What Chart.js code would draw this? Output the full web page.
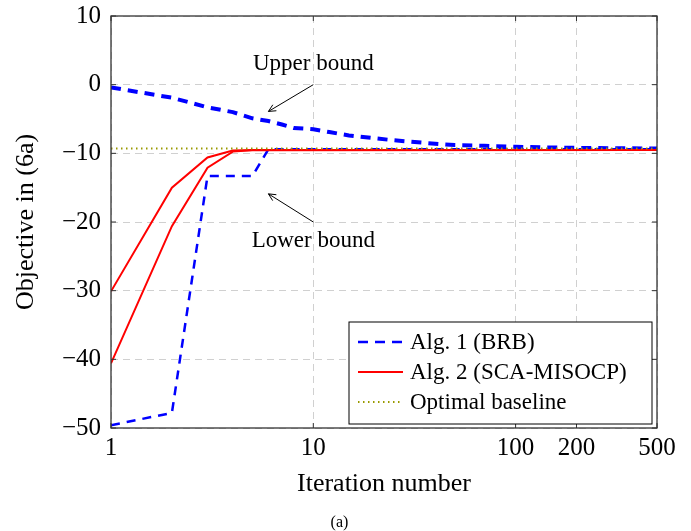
<!DOCTYPE html>
<html>
<head>
<meta charset="utf-8">
<script src="https://cdn.jsdelivr.net/npm/chart.js@4.4.1/dist/chart.umd.min.js"></script>
<style>
  html, body { margin: 0; padding: 0; background: #fff; }
  #wrap { width: 691px; height: 531px; }
</style>
</head>
<body>
<div id="wrap"><canvas id="chart" width="691" height="531"></canvas></div>
<script>
// tick labels
const xTicks = [1, 10, 100, 200, 500];
const yMin = -50, yMax = 10, yStep = 10;

// Alg. 1 (BRB): upper and lower bounds
const upperIter  = [1, 2, 3, 4, 5, 6, 7, 8, 9, 10, 12, 15, 20, 25, 30, 40, 50, 70, 100, 150, 200, 300, 500];
const upperBound = [-0.4, -1.9, -3.3, -4.0, -4.9, -5.3, -5.8, -6.3, -6.4, -6.5, -6.9, -7.4, -7.8, -8.1, -8.3, -8.6, -8.8, -8.9, -9.05, -9.15, -9.2, -9.25, -9.3];
const lowerIter  = [1, 2, 3, 4, 5, 6, 10, 100, 500];
const lowerBound = [-49.6, -47.8, -13.3, -13.3, -13.3, -9.4, -9.4, -9.4, -9.4];

// Alg. 2 (SCA-MISOCP): two runs
const scaIter  = [1, 2, 3, 4, 5, 500];
const scaRunA  = [-30.1, -15.0, -10.6, -9.6, -9.5, -9.5];
const scaRunB  = [-40.6, -20.6, -12.1, -9.75, -9.55, -9.5];

// optimal baseline
const baseIter = [1, 500];
const baseline = [-9.3, -9.3];

const pts = (xs, ys) => xs.map((x, i) => ({ x: x, y: ys[i] }));
const serif = 'Liberation Serif, Times New Roman, serif';

const datasets = [
  { label: 'Optimal baseline', data: pts(baseIter, baseline), borderColor: '#999900', borderWidth: 2, borderDash: [1.5, 3.5] },
  { label: 'Alg. 2 (SCA-MISOCP)', data: pts(scaIter, scaRunA), borderColor: '#ff0000', borderWidth: 2 },
  { label: '', data: pts(scaIter, scaRunB), borderColor: '#ff0000', borderWidth: 2 },
  { label: 'Alg. 1 (BRB)', data: pts(upperIter, upperBound), borderColor: '#0000ff', borderWidth: 4, borderDash: [10, 7] },
  { label: '', data: pts(lowerIter, lowerBound), borderColor: '#0000ff', borderWidth: 2.5, borderDash: [9, 7] }
];
datasets.forEach(d => { d.pointRadius = 0; d.tension = 0; d.fill = false; });

const legendOrder = ['Alg. 1 (BRB)', 'Alg. 2 (SCA-MISOCP)', 'Optimal baseline'];

function arrow(ctx, x1, y1, x2, y2) {
  ctx.beginPath();
  ctx.moveTo(x1, y1);
  ctx.lineTo(x2, y2);
  const ang = Math.atan2(y1 - y2, x1 - x2);
  ctx.moveTo(x2 + 8 * Math.cos(ang + 0.45), y2 + 8 * Math.sin(ang + 0.45));
  ctx.lineTo(x2, y2);
  ctx.lineTo(x2 + 8 * Math.cos(ang - 0.45), y2 + 8 * Math.sin(ang - 0.45));
  ctx.stroke();
}

const decor = {
  id: 'decor',
  afterDraw(chart) {
    const { ctx, chartArea: a, scales: { x, y } } = chart;
    ctx.save();

    // inward ticks on all sides
    ctx.strokeStyle = '#333';
    ctx.lineWidth = 1;
    ctx.beginPath();
    xTicks.forEach(v => {
      const px = x.getPixelForValue(v);
      ctx.moveTo(px, a.bottom); ctx.lineTo(px, a.bottom - 5);
      ctx.moveTo(px, a.top); ctx.lineTo(px, a.top + 5);
    });
    for (let v = yMin; v <= yMax; v += yStep) {
      const py = y.getPixelForValue(v);
      ctx.moveTo(a.left, py); ctx.lineTo(a.left + 5, py);
      ctx.moveTo(a.right, py); ctx.lineTo(a.right - 5, py);
    }
    ctx.stroke();

    // frame
    ctx.lineWidth = 1.3;
    ctx.strokeRect(a.left, a.top, a.right - a.left, a.bottom - a.top);

    // annotations
    ctx.fillStyle = '#000';
    ctx.strokeStyle = '#000';
    ctx.lineWidth = 1;
    ctx.font = '23px ' + serif;
    ctx.textAlign = 'center';
    ctx.textBaseline = 'middle';
    ctx.fillText('Upper bound', x.getPixelForValue(10), y.getPixelForValue(3.0));
    arrow(ctx, x.getPixelForValue(10), y.getPixelForValue(0), x.getPixelForValue(6), y.getPixelForValue(-3.9));
    ctx.fillText('Lower bound', x.getPixelForValue(10), y.getPixelForValue(-22.7));
    arrow(ctx, x.getPixelForValue(10), y.getPixelForValue(-20), x.getPixelForValue(6), y.getPixelForValue(-15.9));

    // legend
    const lw = 303, lh = 102;
    const lx = a.right - 5 - lw, ly = a.bottom - 4 - lh;
    ctx.fillStyle = '#fff';
    ctx.fillRect(lx, ly, lw, lh);
    ctx.strokeStyle = '#000';
    ctx.lineWidth = 1;
    ctx.strokeRect(lx, ly, lw, lh);
    ctx.textAlign = 'left';
    ctx.font = '23px ' + serif;
    legendOrder.forEach((name, i) => {
      const ds = chart.data.datasets.find(d => d.label === name);
      const cy = ly + 20 + i * 30;
      ctx.save();
      ctx.strokeStyle = ds.borderColor;
      ctx.lineWidth = Math.min(ds.borderWidth, 2.5);
      ctx.setLineDash(ds.borderDash || []);
      ctx.beginPath();
      ctx.moveTo(lx + 9, cy); ctx.lineTo(lx + 54, cy);
      ctx.stroke();
      ctx.restore();
      ctx.fillStyle = '#000';
      ctx.fillText(name, lx + 61, cy + 1);
    });

    // caption
    ctx.textAlign = 'center';
    ctx.font = '16px ' + serif;
    ctx.fillText('(a)', chart.width / 2 - 6, 523);
    ctx.restore();
  }
};

const ctx = document.getElementById('chart');

const config = {
  type: 'line',
  data: { datasets: datasets },
  options: {
    responsive: false,
    animation: false,
    devicePixelRatio: 1,
    layout: { padding: { top: 16, right: 34, left: 0, bottom: 0 } },
    plugins: {
      legend: { display: false },
      tooltip: { enabled: false }
    },
    scales: {
      x: {
        type: 'logarithmic',
        min: 1,
        max: 500,
        afterBuildTicks: (scale) => { scale.ticks = xTicks.map(v => ({ value: v })); },
        afterFit: (scale) => {
          scale.height = 103;
          scale.paddingLeft = 0;
          scale.paddingRight = 0;
        },
        ticks: {
          autoSkip: false,
          maxRotation: 0,
          padding: 5,
          color: '#000',
          font: { family: serif, size: 25 },
          callback: (v) => String(v)
        },
        grid: { color: '#d0d0d0', drawTicks: false, lineWidth: 1 },
        border: { display: false, dash: [7, 5] },
        title: {
          display: true,
          text: 'Iteration number',
          color: '#000',
          font: { family: serif, size: 26 },
          padding: { top: 0, bottom: 31 }
        }
      },
      y: {
        min: yMin,
        max: yMax,
        afterFit: (scale) => {
          scale.width = 111;
          scale.paddingTop = 0;
          scale.paddingBottom = 0;
        },
        ticks: {
          stepSize: yStep,
          padding: 10,
          color: '#000',
          font: { family: serif, size: 25 },
          callback: (v) => (v < 0 ? '\u2212' + Math.abs(v) : String(v))
        },
        grid: { color: '#d0d0d0', drawTicks: false, lineWidth: 1 },
        border: { display: false, dash: [7, 5] },
        title: {
          display: true,
          text: 'Objective in (6a)',
          color: '#000',
          font: { family: serif, size: 26 },
          padding: { top: 11, bottom: 0 }
        }
      }
    }
  },
  plugins: [decor]
};

const myChart = new Chart(ctx, config);
</script>
</body>
</html>
